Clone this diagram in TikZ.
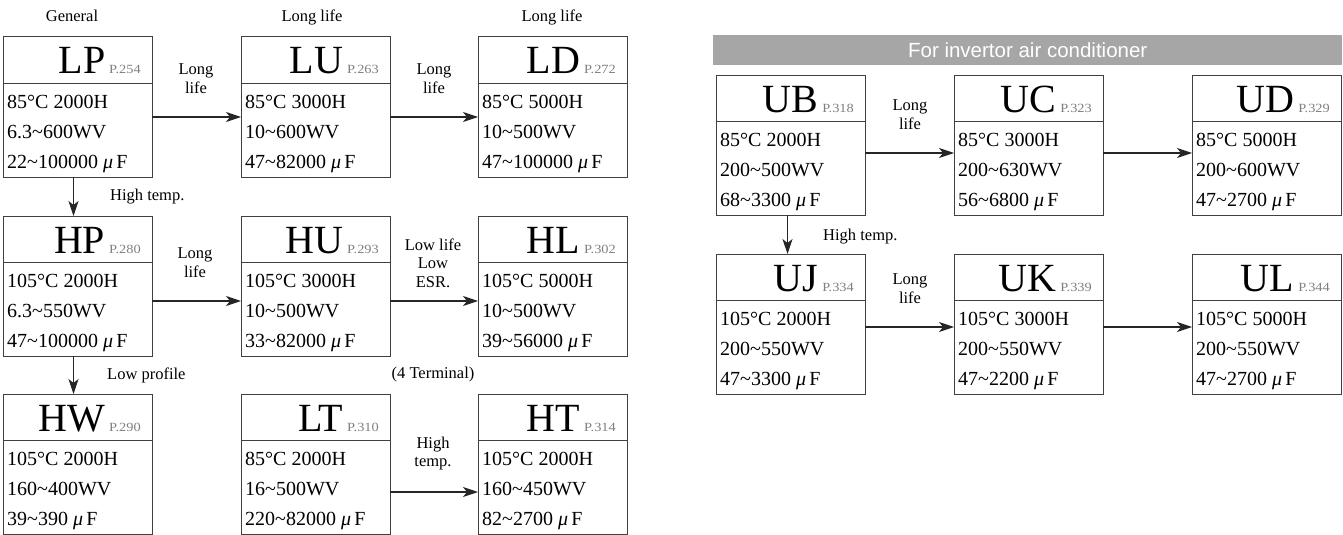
\documentclass[tikz,border=0pt]{standalone}
\usepackage{fontspec}
\setmainfont{Liberation Serif}
\newfontfamily\pagefont[FakeStretch=1.15]{Liberation Serif}
\newfontfamily\barfont{Liberation Sans}
\usetikzlibrary{arrows.meta, positioning, calc}

\definecolor{boxline}{HTML}{404040}
\definecolor{pagegray}{HTML}{7F7F7F}
\definecolor{barfill}{HTML}{A6A6A6}

\tikzset{
  sbox/.style={draw=boxline, line width=1pt, minimum width=149pt, minimum height=140pt,
    inner sep=0pt, outer sep=0pt, anchor=north west},
  sline/.style={draw=boxline, line width=1pt},
  stitle/.style={inner sep=0pt, anchor=base east, font=\fontsize{40}{40}\selectfont},
  sdata/.style={inner sep=0pt, anchor=base west, font=\fontsize{20}{20}\selectfont},
  note/.style={inner sep=0pt, align=center, font=\fontsize{16.5}{18.5}\selectfont},
  flow/.style={-{Stealth[length=15pt,width=10pt,inset=4pt]}, line width=1.1pt, draw=black!85},
}

\newcommand{\uF}{\textit{μ}\,F}
\newcommand{\rng}{\textasciitilde}
% name, x, y, series, page, temperature, voltage, capacitance
\newcommand{\seriesbox}[8]{%
  \node[sbox] (#1) at (#2,#3) {};
  \draw[sline] ([yshift=-46pt]#1.north west) -- ([yshift=-46pt]#1.north east);
  \node[stitle] (#1-name) at ([xshift=-11pt,yshift=-37pt]#1.north east)
    {#4\hspace{4pt}{\pagefont\fontsize{12.5}{12.5}\selectfont\color{pagegray}#5}};
  \node[sdata] (#1-temp) at ([xshift=4pt,yshift=-71pt]#1.north west) {#6};
  \node[sdata] (#1-volt) at ([xshift=4pt,yshift=-101pt]#1.north west) {#7};
  \node[sdata] (#1-cap) at ([xshift=4pt,yshift=-131pt]#1.north west) {#8};
}

\begin{document}
\begin{tikzpicture}[x=1pt, y=-1pt]
  \useasboundingbox (0,0) rectangle (1343,535);

  % general purpose series
  \seriesbox{LP}{3}{37}{LP}{P.254}{85°C 2000H}{6.3\rng600WV}{22\rng100000 \uF}
  \seriesbox{LU}{241}{37}{LU}{P.263}{85°C 3000H}{10\rng600WV}{47\rng82000 \uF}
  \seriesbox{LD}{478}{37}{LD}{P.272}{85°C 5000H}{10\rng500WV}{47\rng100000 \uF}
  \seriesbox{HP}{3}{216}{HP}{P.280}{105°C 2000H}{6.3\rng550WV}{47\rng100000 \uF}
  \seriesbox{HU}{241}{216}{HU}{P.293}{105°C 3000H}{10\rng500WV}{33\rng82000 \uF}
  \seriesbox{HL}{478}{216}{HL}{P.302}{105°C 5000H}{10\rng500WV}{39\rng56000 \uF}
  \seriesbox{HW}{3}{394}{HW}{P.290}{105°C 2000H}{160\rng400WV}{39\rng390 \uF}
  \seriesbox{LT}{241}{394}{LT}{P.310}{85°C 2000H}{16\rng500WV}{220\rng82000 \uF}
  \seriesbox{HT}{478}{394}{HT}{P.314}{105°C 2000H}{160\rng450WV}{82\rng2700 \uF}

  \node[note, anchor=base] (general) at (72,21.5) {General};
  \node[note, anchor=base] (lulife) at (312,21.5) {Long life};
  \node[note, anchor=base] (ldlife) at (552,21.5) {Long life};
  \node[note] (lplu) at (196,78.5) {Long\\life};
  \node[note] (luld) at (434,78.5) {Long\\life};
  \node[note, anchor=base west] (lphp) at (110,200) {High temp.};
  \node[note] (hphu) at (195,262.5) {Long\\life};
  \node[note] (huhl) at (433,263) {Low life\\Low\\ESR.};
  \node[note, anchor=base west] (hphw) at (107,379) {Low profile};
  \node[note, anchor=base] (fourterm) at (433,378) {(4 Terminal)};
  \node[note] (ltht) at (433,453.5) {High\\temp.};

  \draw[flow] ([yshift=-10pt]LP.east) -- ([yshift=-10pt]LU.west);
  \draw[flow] ([yshift=-10pt]LU.east) -- ([yshift=-10pt]LD.west);
  \draw[flow] ([yshift=-15pt]HP.east) -- ([yshift=-15pt]HU.west);
  \draw[flow] ([yshift=-15pt]HU.east) -- ([yshift=-15pt]HL.west);
  \draw[flow] ([yshift=-28pt]LT.east) -- ([yshift=-28pt]HT.west);
  \draw[flow] ([xshift=-4pt]LP.south) -- ([xshift=-4pt]HP.north);
  \draw[flow] ([xshift=-4pt]HP.south) -- ([xshift=-4pt]HW.north);

  % inverter series
  \node[fill=barfill, minimum width=629pt, minimum height=30pt, inner sep=0pt, anchor=north west,
    text=white, font=\barfont\fontsize{20.5}{20.5}\selectfont] (bar) at (713,35) {For invertor air conditioner};

  \seriesbox{UB}{716}{75}{UB}{P.318}{85°C 2000H}{200\rng500WV}{68\rng3300 \uF}
  \seriesbox{UC}{954}{75}{UC}{P.323}{85°C 3000H}{200\rng630WV}{56\rng6800 \uF}
  \seriesbox{UD}{1192}{75}{UD}{P.329}{85°C 5000H}{200\rng600WV}{47\rng2700 \uF}
  \seriesbox{UJ}{716}{254}{UJ}{P.334}{105°C 2000H}{200\rng550WV}{47\rng3300 \uF}
  \seriesbox{UK}{954}{254}{UK}{P.339}{105°C 3000H}{200\rng550WV}{47\rng2200 \uF}
  \seriesbox{UL}{1192}{254}{UL}{P.344}{105°C 5000H}{200\rng550WV}{47\rng2700 \uF}

  \node[note] (ubuc) at (910,114.5) {Long\\life};
  \node[note, anchor=base west] (ubuj) at (823,240) {High temp.};
  \node[note] (ujuk) at (910,288.5) {Long\\life};

  \draw[flow] ([yshift=-8pt]UB.east) -- ([yshift=-8pt]UC.west);
  \draw[flow] ([yshift=-8pt]UC.east) -- ([yshift=-8pt]UD.west);
  \draw[flow] ([yshift=-3pt]UJ.east) -- ([yshift=-3pt]UK.west);
  \draw[flow] ([yshift=-3pt]UK.east) -- ([yshift=-3pt]UL.west);
  \draw[flow] ([xshift=-3pt]UB.south) -- ([xshift=-3pt]UJ.north);
\end{tikzpicture}
\end{document}
